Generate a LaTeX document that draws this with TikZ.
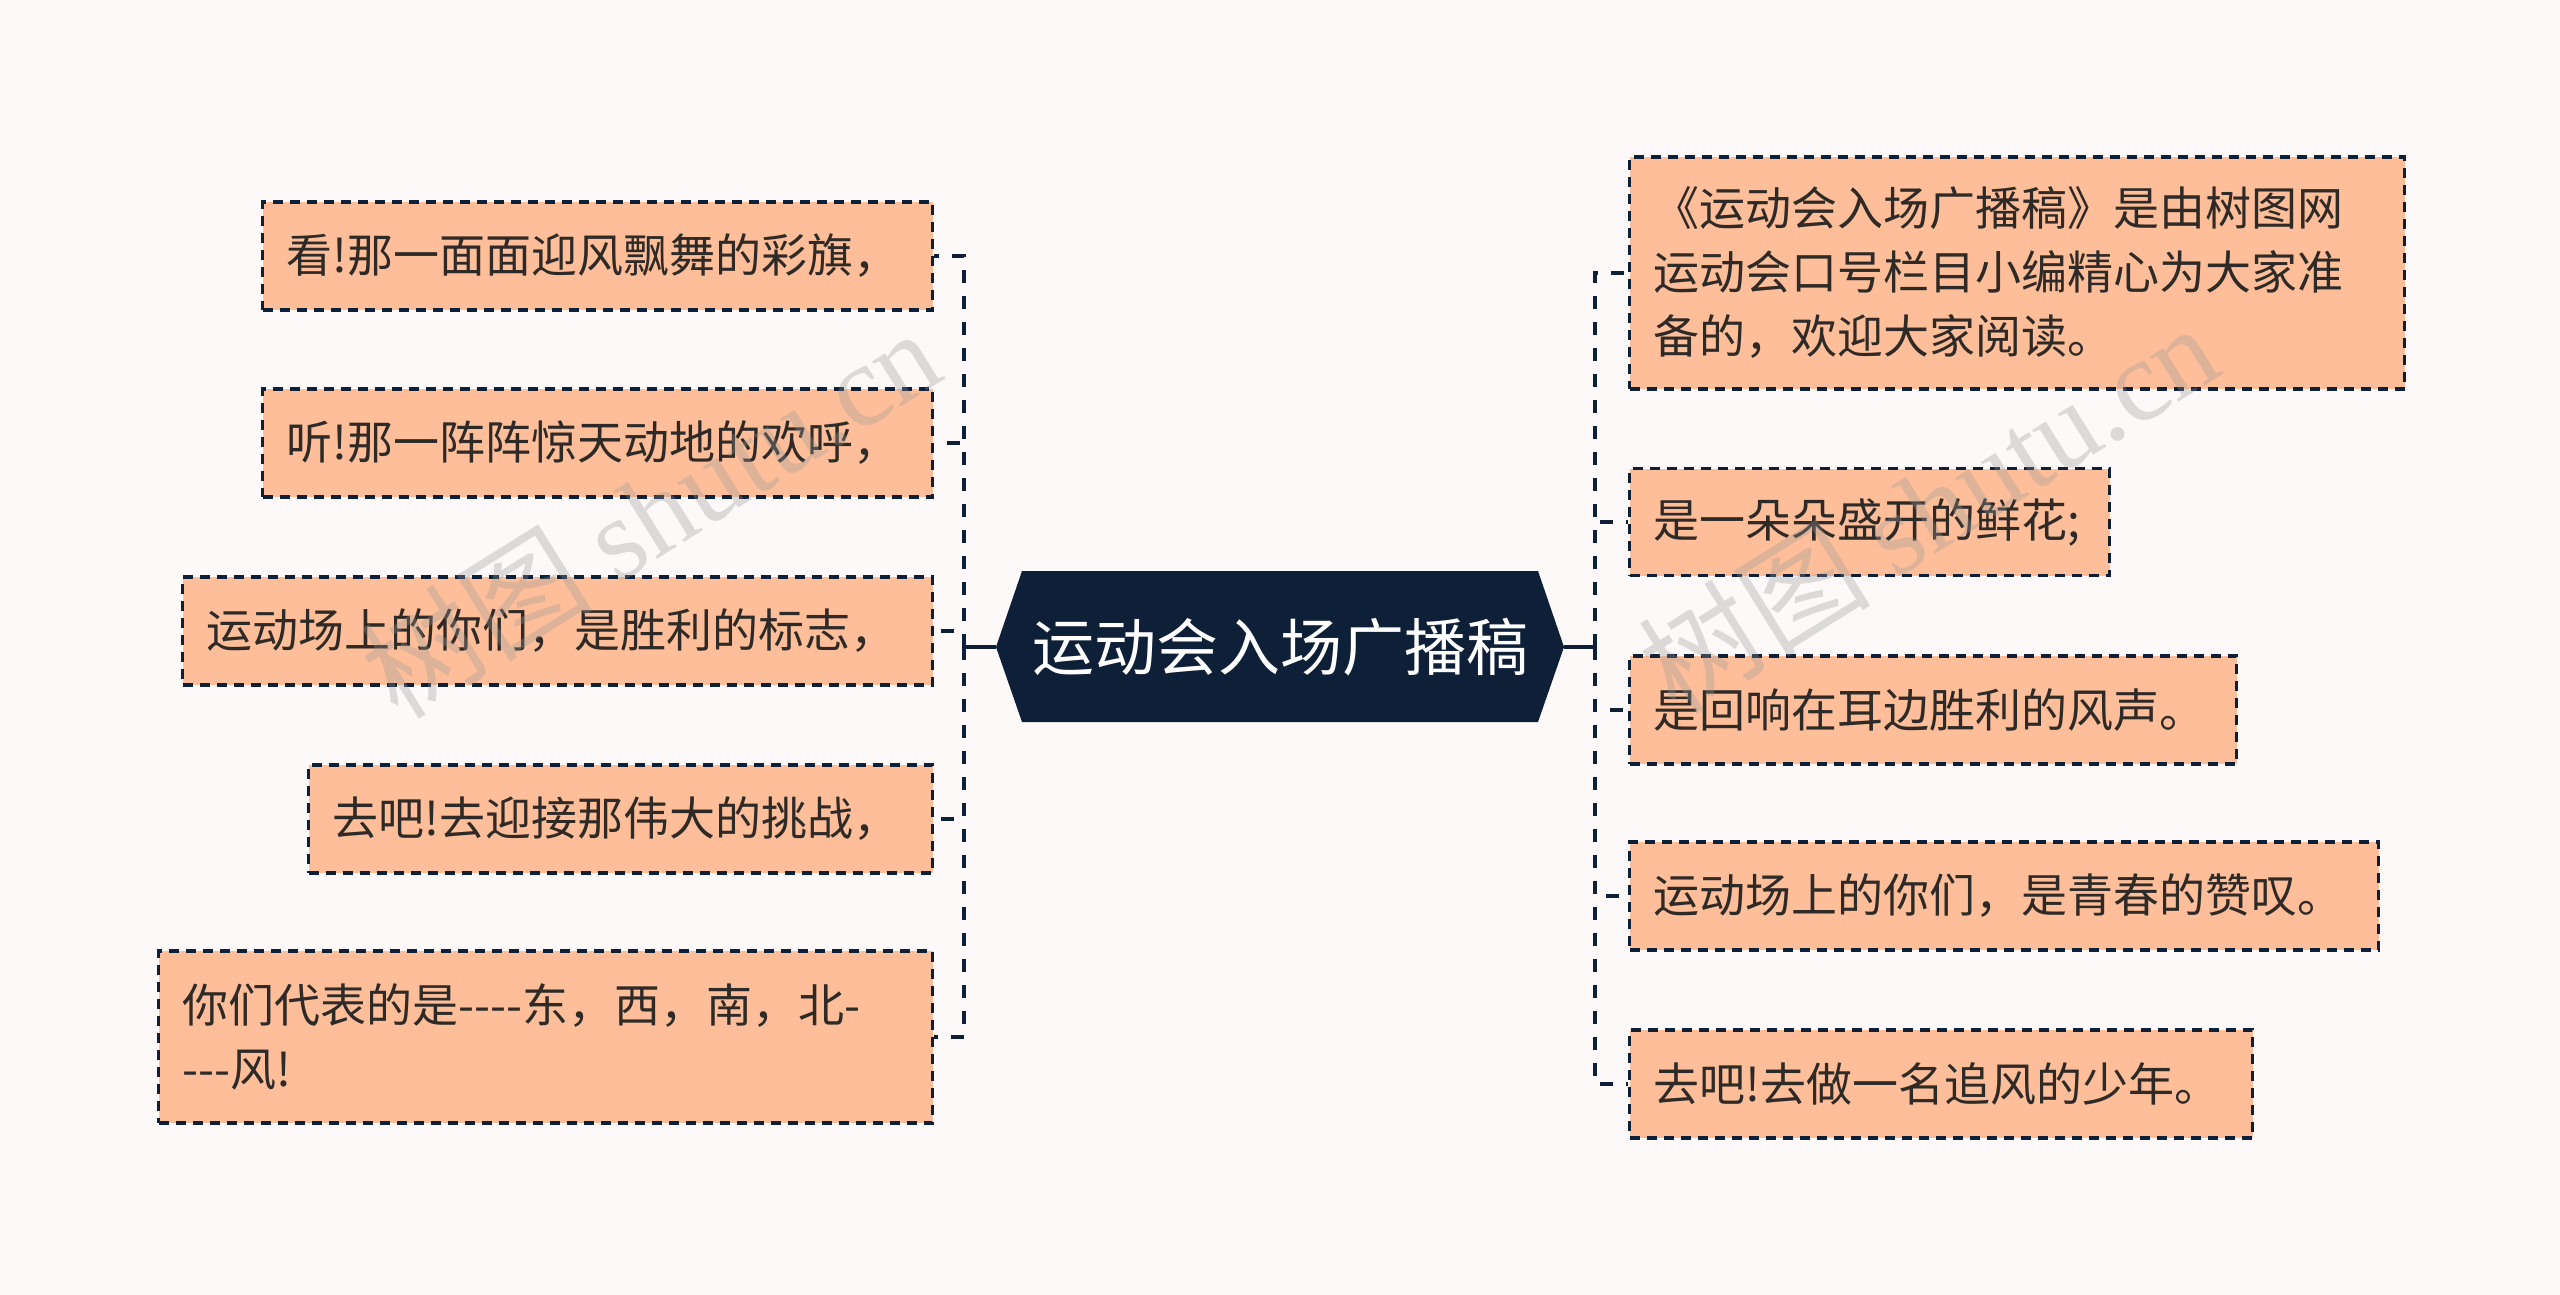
\documentclass[tikz,border=0pt]{standalone}
\usepackage{fontspec}
\setmainfont{Noto Sans CJK SC}
\newfontfamily\wmfont{Liberation Serif}
\newfontfamily\wmcjk{Noto Sans CJK SC}
\definecolor{bgc}{HTML}{FCF9F8}
\definecolor{navy}{HTML}{0E1F38}
\definecolor{peach}{HTML}{FDBE99}
\definecolor{txt}{HTML}{2E2A27}
\newcommand{\hy}{-\kern0pt}
\begin{document}
\begin{tikzpicture}[x=0.5pt,y=-0.5pt,
  leaf/.style={draw=navy, fill=peach, line width=1.7pt, dash pattern=on 5pt off 3.5pt,
    rectangle, anchor=west, inner xsep=12pt, inner ysep=0pt, align=left,
    font=\fontsize{23}{32}\selectfont, text=txt},
  conn/.style={draw=navy, line width=2pt, dash pattern=on 6.5pt off 6.5pt},
  trunk/.style={draw=navy, line width=2pt},
  wm/.style={rotate=32, text=black!40, opacity=0.32, font=\fontsize{58}{58}\selectfont}]
\useasboundingbox (0,0) rectangle (2560,1295);
\fill[bgc] (0,0) rectangle (2560,1295);

% central hexagon
\fill[navy] (996,647) -- (1022,571) -- (1538,571) -- (1564,647) -- (1538,722) -- (1022,722) -- cycle;
\node[minimum width=284pt, minimum height=75.5pt, inner sep=0pt, text=white,
  font=\fontsize{31}{36}\selectfont] (c) at (1280,647) {运动会入场广播稿};

% left leaves
\node[leaf, minimum width=335pt, minimum height=54pt, text width=311pt] (L1) at (261,256) {看!那一面面迎风飘舞的彩旗，};
\node[leaf, minimum width=335pt, minimum height=54pt, text width=311pt] (L2) at (261,443) {听!那一阵阵惊天动地的欢呼，};
\node[leaf, minimum width=375pt, minimum height=54pt, text width=351pt] (L3) at (181,631) {运动场上的你们，是胜利的标志，};
\node[leaf, minimum width=312pt, minimum height=54pt, text width=288pt] (L4) at (307,819) {去吧!去迎接那伟大的挑战，};
\node[leaf, minimum width=387pt, minimum height=86pt, text width=363pt] (L5) at (157,1037) {你们代表的是\hy\hy\hy\hy 东，西，南，北\hy\\\hy\hy\hy 风!};

% right leaves
\node[leaf, minimum width=387.5pt, minimum height=116pt, text width=363.5pt] (R1) at (1628,273) {《运动会入场广播稿》是由树图网\\运动会口号栏目小编精心为大家准\\备的，欢迎大家阅读。};
\node[leaf, minimum width=240pt, minimum height=53.5pt, text width=216pt] (R2) at (1628,522) {是一朵朵盛开的鲜花;};
\node[leaf, minimum width=303.5pt, minimum height=54pt, text width=279.5pt] (R3) at (1628,710) {是回响在耳边胜利的风声。};
\node[leaf, minimum width=374.5pt, minimum height=54pt, text width=350.5pt] (R4) at (1628,896) {运动场上的你们，是青春的赞叹。};
\node[leaf, minimum width=311.5pt, minimum height=54pt, text width=287.5pt] (R5) at (1628,1084) {去吧!去做一名追风的少年。};

% connectors
\coordinate (jl) at (964,647);
\coordinate (jr) at (1595,647);
\draw[trunk] (c.west) -- (jl);
\draw[trunk] (c.east) -- (jr);
\foreach \n in {L1,L2,L3,L4,L5} \draw[conn] (jl) |- (\n.east);
\foreach \n in {R1,R2,R3,R4,R5} \draw[conn] (jr) |- (\n.west);

% watermarks
\node[wm] (wm1) at (650,512) {\wmcjk 树图 \wmfont shutu.cn};
\node[wm] (wm2) at (1928,507) {\wmcjk 树图 \wmfont shutu.cn};
\end{tikzpicture}
\end{document}
